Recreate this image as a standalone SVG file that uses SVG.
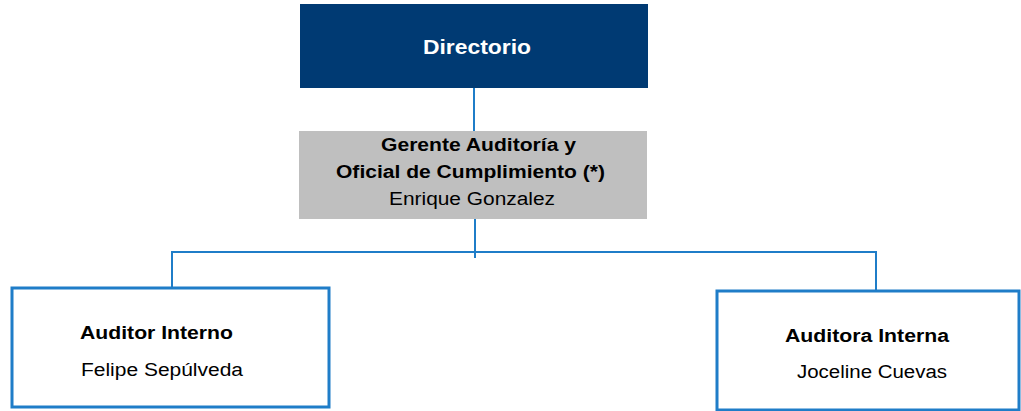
<svg xmlns="http://www.w3.org/2000/svg" width="1021" height="411" viewBox="0 0 1021 411">
<style>
.t{font-family:"Liberation Sans",Arial,sans-serif;font-size:18px;fill:#000}
.b{font-weight:bold}
.conn{stroke:#1F7DC8;stroke-width:2;fill:none}
.box{fill:#fff;stroke:#1F7DC8;stroke-width:3}
</style>
<rect width="1021" height="411" fill="#fff"/>
<g id="connectors">
<line class="conn" x1="474" y1="88" x2="474" y2="131"/>
<line class="conn" x1="475" y1="219" x2="475" y2="258"/>
<polyline class="conn" points="172,288 172,252 876,252 876,291"/>
</g>
<g id="directorio">
<rect x="300" y="4" width="348" height="84" fill="#003A73"/>
<text class="t b" x="423" y="54" textLength="108" lengthAdjust="spacingAndGlyphs" style="fill:#fff;font-size:20px">Directorio</text>
</g>
<g id="gerente">
<rect x="299" y="131" width="348" height="88" fill="#BFBFBF"/>
<text class="t b" x="381" y="151" textLength="195" lengthAdjust="spacingAndGlyphs">Gerente Auditoría y</text>
<text class="t b" x="336" y="178" textLength="269" lengthAdjust="spacingAndGlyphs">Oficial de Cumplimiento (*)</text>
<text class="t" x="389" y="205" textLength="166" lengthAdjust="spacingAndGlyphs">Enrique Gonzalez</text>
</g>
<g id="auditor-interno">
<rect class="box" x="12" y="288" width="317" height="119"/>
<text class="t b" x="80" y="339" textLength="153" lengthAdjust="spacingAndGlyphs">Auditor Interno</text>
<text class="t" x="81" y="376" textLength="162" lengthAdjust="spacingAndGlyphs">Felipe Sepúlveda</text>
</g>
<g id="auditora-interna">
<rect class="box" x="717" y="291" width="302" height="119"/>
<text class="t b" x="785" y="342" textLength="164" lengthAdjust="spacingAndGlyphs">Auditora Interna</text>
<text class="t" x="797" y="378" textLength="150" lengthAdjust="spacingAndGlyphs">Joceline Cuevas</text>
</g>
</svg>
